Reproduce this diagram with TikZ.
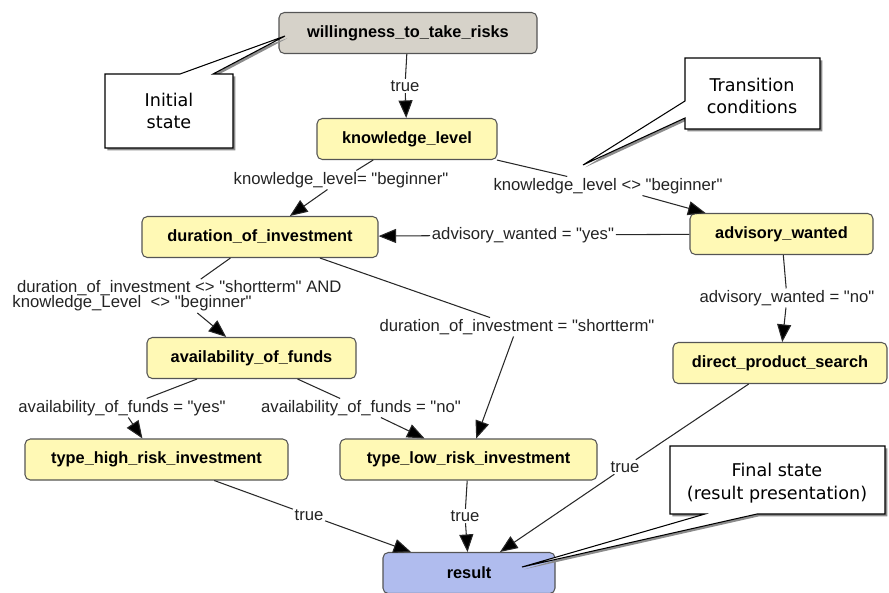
\documentclass[tikz,border=0pt]{standalone}
\usepackage{fontspec}
\setsansfont{Liberation Sans}
\newfontfamily\calloutfont{DejaVu Sans}
\usetikzlibrary{arrows.meta,shadows}

\definecolor{stateyellow}{RGB}{255,249,181}
\definecolor{startgray}{RGB}{214,210,201}
\definecolor{resultblue}{RGB}{176,188,238}
\definecolor{boxline}{RGB}{85,85,85}
\definecolor{edgegray}{RGB}{40,40,40}
\definecolor{condtext}{RGB}{35,35,35}

\begin{document}
\begin{tikzpicture}[
  x=0.02cm, y=-0.02cm,
  st/.style={draw=boxline, fill=stateyellow, rounded corners=3pt, line width=0.6pt, inner sep=0pt, minimum height=0.82cm, minimum width=#1*0.02cm, font=\sffamily\bfseries\fontsize{9.3}{11}\selectfont},
  cond/.style={inner sep=0.8pt, text=condtext, font=\sffamily\fontsize{9.5}{10}\selectfont},
  tr/.style={draw=edgegray, line width=0.6pt, -{Triangle[length=10pt,width=8pt,fill=black]}},
  note/.style={draw=black, fill=white, line width=0.6pt, drop shadow={shadow xshift=1.3pt, shadow yshift=-1.3pt, fill=black!45, opacity=1}},
  notetext/.style={align=center, inner sep=0pt, font=\calloutfont\fontsize{10}{13}\selectfont}
]
  \useasboundingbox (0,0) rectangle (889,592);

  \node[st=258, fill=startgray] (will) at (408,33) {willingness\_to\_take\_risks};
  \node[st=180] (know) at (407,139) {knowledge\_level};
  \node[st=236] (dur) at (260,237) {duration\_of\_investment};
  \node[st=183] (adv) at (781.5,234) {advisory\_wanted};
  \node[st=209] (avail) at (251.5,358) {availability\_of\_funds};
  \node[st=214] (dps) at (780,363) {direct\_product\_search};
  \node[st=263] (high) at (156.5,459.5) {type\_high\_risk\_investment};
  \node[st=257] (low) at (468.5,459.5) {type\_low\_risk\_investment};
  \node[st=172, fill=resultblue] (res) at (469,573) {result};

  \node[cond] (lw) at (405,86) {true};
  \node[cond] (lkb) at (341,180) {knowledge\_level= \textquotedbl beginner\textquotedbl};
  \node[cond] (lknb) at (608,186) {knowledge\_level <> \textquotedbl beginner\textquotedbl};
  \node[cond] (lawy) at (523,235) {advisory\_wanted = \textquotedbl yes\textquotedbl};
  \node[cond] (lawn) at (787,298) {advisory\_wanted = \textquotedbl no\textquotedbl};
  \node[cond, align=left] (ldsa) at (177,296) {\ duration\_of\_investment <> \textquotedbl shortterm\textquotedbl{} AND\\[-1.6pt]knowledge\_Level \ <> \textquotedbl beginner\textquotedbl};
  \node[cond] (ldst) at (517,327) {duration\_of\_investment = \textquotedbl shortterm\textquotedbl};
  \node[cond] (lafy) at (122,408) {availability\_of\_funds = \textquotedbl yes\textquotedbl};
  \node[cond] (lafn) at (361,408) {availability\_of\_funds = \textquotedbl no\textquotedbl};
  \node[cond] (lt2) at (309,515) {true};
  \node[cond] (lt3) at (465,516) {true};
  \node[cond] (lt4) at (625,467) {true};

  \draw[tr] (will) -- (lw) -- (know);
  \draw[tr] (know) -- (lkb) -- (dur);
  \draw[tr] (know) -- (lknb) -- (adv);
  \draw[tr] (adv) -- (lawy) -- (dur);
  \draw[tr] (adv) -- (lawn) -- (dps);
  \draw[tr] (dur) -- (ldsa) -- (avail);
  \draw[tr] (dur) -- (ldst) -- (low);
  \draw[tr] (avail) -- (lafy) -- (high);
  \draw[tr] (avail) -- (lafn) -- (low);
  \draw[tr] (high) -- (lt2) -- (res);
  \draw[tr] (low) -- (lt3) -- (res);
  \draw[tr] (dps) -- (lt4) -- (res);

  \coordinate (initTip) at (285,36);
  \coordinate (transTip) at (583,165);
  \coordinate (finTip) at (522,567);
  \draw[note] (105,74) -- (180,74) -- (initTip) -- (213,74) -- (233,74) -- (233,148) -- (105,148) -- cycle;
  \node[notetext] (init) at (169,111) {Initial\\state};
  \draw[note] (685,58) -- (820,58) -- (820,129) -- (685,129) -- (685,118) -- (transTip) -- (685,101) -- cycle;
  \node[notetext] (trans) at (752,96) {Transition\\conditions};
  \draw[note] (670,446) -- (885,446) -- (885,514) -- (757,514) -- (finTip) -- (705,514) -- (670,514) -- cycle;
  \node[notetext] (fin) at (777,483) {Final state\\(result presentation)};
\end{tikzpicture}
\end{document}
